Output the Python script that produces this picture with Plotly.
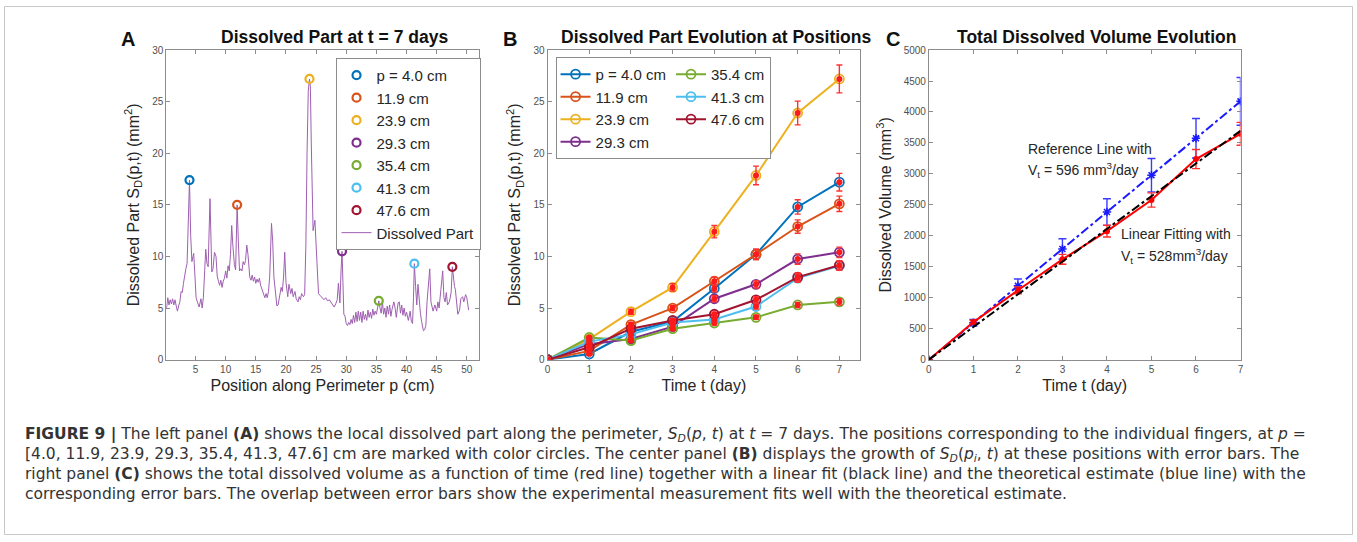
import plotly.graph_objects as go

W, H = 1357, 542

# ---------------- Panel A data ----------------
perim_p = [0.2,0.4,0.6,0.8,1.0,1.2,1.4,1.6,1.8,2.0,2.2,2.4,2.6,2.8,3.0,3.2,3.4,3.6,3.8,4.0,
           4.2,4.4,4.7,4.9,5.1,5.3,5.6,5.9,6.1,6.3,6.5,6.7,6.9,7.1,7.4,7.7,7.9,8.15,8.4,8.6,
           8.8,9.0,9.2,9.4,9.6,9.8,10.0,10.2,10.4,10.6,10.8,11.0,11.2,11.45,11.65,11.9,12.1,12.3,12.5,12.7,
           12.9,13.1,13.3,13.5,13.7,14.0,14.2,14.4,14.6,14.8,15.0,15.2,15.4,15.6,15.8,16.0,16.3,16.5,16.7,16.9,
           17.1,17.3,17.6,17.8,18.0,18.3,18.5,18.7,19.0,19.2,19.4,19.6,19.8,20.0,20.3,20.5,20.8,21.0,21.2,21.5,
           21.7,22.0,22.2,22.4,22.6,22.9,23.1,23.3,23.5,23.7,23.9,24.05,24.2,24.5,24.8,25.1,25.4,25.7,26.0,26.3,
           26.6,26.9,27.2,27.5,27.7,28.0,28.25,28.5,28.7,28.95,29.15,29.3,29.45,29.6,29.8,30.0,30.2,30.4,30.6,30.8,
           31.0,31.2,31.4,31.6,31.8,32.0,32.2,32.4,32.6,32.8,33.0,33.2,33.4,33.6,33.8,34.0,34.2,34.4,34.6,34.8,
           35.0,35.2,35.4,35.6,35.8,36.0,36.2,36.4,36.6,36.8,37.0,37.2,37.4,37.6,37.9,38.1,38.3,38.6,38.8,39.0,
           39.2,39.4,39.6,39.8,40.0,40.3,40.6,40.8,41.0,41.15,41.3,41.5,41.7,41.9,42.1,42.3,42.5,42.8,43.0,43.2,
           43.4,43.65,43.85,44.05,44.25,44.4,44.7,45.0,45.2,45.4,45.7,46.0,46.2,46.4,46.6,46.8,47.1,47.4,47.6,47.8,
           47.95,48.1,48.3,48.5,48.8,49.0,49.3,49.5,49.8,50.0,50.3]
dissolved = [5.0,6.0,5.3,5.8,5.4,5.9,5.3,5.8,5.2,4.7,5.2,5.6,6.6,6.5,7.4,8.4,8.8,9.3,12.5,17.4,
             12.0,9.5,10.3,8.5,6.0,5.6,5.1,5.9,5.0,6.0,8.1,10.7,9.3,9.0,15.6,8.5,8.8,10.4,10.0,8.1,
             7.6,7.2,7.7,7.0,7.6,7.9,8.6,7.9,9.1,8.6,10.2,13.0,11.0,9.2,8.7,15.0,11.5,8.6,8.8,8.6,
             9.5,9.2,9.6,11.1,10.2,8.0,7.7,8.2,7.6,8.0,7.4,7.8,7.5,7.9,7.2,6.8,6.3,6.0,6.4,6.0,
             6.6,8.0,13.2,11.5,8.0,5.8,5.2,5.3,6.5,7.0,6.6,8.0,10.4,7.5,6.1,7.3,6.4,6.9,6.1,6.6,
             5.9,5.6,6.1,5.8,6.4,6.1,6.3,11.0,20.0,26.0,27.2,26.5,21.0,12.5,13.5,10.5,6.4,6.2,6.0,5.8,
             6.0,5.7,5.8,5.5,5.3,5.1,5.4,5.8,7.4,5.5,8.8,10.5,7.5,4.4,4.2,3.5,3.3,3.6,3.4,3.9,
             3.5,4.3,3.6,4.6,3.7,4.7,3.8,4.6,3.6,4.7,3.9,4.4,3.8,4.8,4.1,4.6,4.0,4.9,4.3,4.7,
             4.4,5.2,5.7,5.0,4.5,5.6,4.4,5.0,4.1,5.2,4.4,5.3,4.2,4.9,5.6,5.0,4.1,5.5,5.6,4.5,
             5.3,4.3,5.0,4.2,4.6,3.8,4.7,3.7,3.5,6.0,9.3,7.1,5.3,7.3,5.6,4.5,3.7,2.8,2.9,3.3,
             5.6,7.0,8.8,5.6,5.0,4.7,5.3,4.7,5.6,5.0,6.8,8.6,6.0,5.6,6.5,5.3,5.6,6.5,9.0,7.4,
             7.1,6.8,5.3,4.4,4.8,5.9,6.1,5.6,6.3,6.0,4.8]

finger_labels = ["p = 4.0 cm", "11.9 cm", "23.9 cm", "29.3 cm", "35.4 cm", "41.3 cm", "47.6 cm"]
finger_pos = [4.0, 11.9, 23.9, 29.3, 35.4, 41.3, 47.6]
finger_val_t7 = [17.4, 15.0, 27.2, 10.5, 5.7, 9.3, 9.0]
finger_colors = ["#0072BD", "#D95319", "#EDB120", "#7E2F8E", "#77AC30", "#4DBEEE", "#A2142F"]

# ---------------- Panel B data ----------------
days = [0, 1, 2, 3, 4, 5, 6, 7]
growth = {
    "p = 4.0 cm": [0, 0.55, 2.7, 3.7, 6.9, 10.2, 14.8, 17.2],
    "11.9 cm":    [0, 0.85, 3.4, 5.0, 7.6, 10.2, 12.9, 15.1],
    "23.9 cm":    [0, 2.0, 4.65, 7.0, 12.4, 17.85, 23.9, 27.2],
    "29.3 cm":    [0, 1.5, 2.0, 3.2, 5.9, 7.3, 9.75, 10.4],
    "35.4 cm":    [0, 2.15, 1.85, 3.0, 3.55, 4.1, 5.3, 5.6],
    "41.3 cm":    [0, 1.75, 2.45, 3.6, 3.9, 5.15, 7.9, 9.1],
    "47.6 cm":    [0, 1.2, 3.0, 3.8, 4.4, 5.8, 8.0, 9.15],
}
growth_err = {
    "p = 4.0 cm": [0, 0.1, 0.15, 0.2, 0.35, 0.5, 0.7, 0.85],
    "11.9 cm":    [0, 0.1, 0.2, 0.25, 0.4, 0.5, 0.65, 0.75],
    "23.9 cm":    [0, 0.1, 0.25, 0.35, 0.6, 0.9, 1.15, 1.35],
    "29.3 cm":    [0, 0.1, 0.1, 0.15, 0.3, 0.35, 0.5, 0.5],
    "35.4 cm":    [0, 0.1, 0.1, 0.15, 0.2, 0.2, 0.25, 0.3],
    "41.3 cm":    [0, 0.1, 0.15, 0.2, 0.2, 0.25, 0.4, 0.45],
    "47.6 cm":    [0, 0.1, 0.15, 0.2, 0.2, 0.3, 0.4, 0.45],
}

# ---------------- Panel C data ----------------
total_measured = [0, 607, 1120, 1620, 2075, 2578, 3240, 3648]
total_measured_err = [0, 30, 55, 80, 95, 115, 155, 185]
reference_line = [0, 596, 1192, 1788, 2384, 2980, 3576, 4172]
reference_err = [0, 55, 110, 165, 215, 270, 320, 385]
fit_days = [0, 7]
fit_line = [0, 3696]

FONT = "Liberation Sans, Arial, sans-serif"
CAPFONT = "DejaVu Sans, Roboto, sans-serif"
TXT = "#262626"

fig = go.Figure()

# Panel A
fig.add_trace(go.Scatter(x=perim_p, y=dissolved, mode="lines", name="Dissolved Part",
                         line=dict(color="#9E5FB0", width=1), legend="legend", legendrank=100,
                         xaxis="x", yaxis="y"))
for lab, xp, yv, c, r in zip(finger_labels, finger_pos, finger_val_t7, finger_colors, range(1, 8)):
    fig.add_trace(go.Scatter(x=[xp], y=[yv], mode="markers", name=lab,
                             marker=dict(symbol="circle-open", size=8, color=c, line=dict(width=2.2)),
                             legend="legend", legendrank=r, xaxis="x", yaxis="y"))

# Panel B
for i, (lab, c) in enumerate(zip(finger_labels, finger_colors)):
    fig.add_trace(go.Scatter(x=days, y=growth[lab], mode="lines+markers", name=lab,
                             line=dict(color=c, width=2),
                             marker=dict(symbol="circle-open", size=9, color=c, line=dict(width=1.8)),
                             legend="legend2", legendgroup="g1" if i < 4 else "g2",
                             xaxis="x2", yaxis="y2"))
for lab in finger_labels:
    fig.add_trace(go.Scatter(x=days, y=growth[lab], mode="markers", showlegend=False,
                             marker=dict(symbol="circle", size=6, color="#ff1a1a"),
                             error_y=dict(type="data", array=growth_err[lab], color="#ff3030",
                                          thickness=1.4, width=3),
                             xaxis="x2", yaxis="y2"))

# Panel C
fig.add_trace(go.Scatter(x=days, y=reference_line, mode="lines+markers", showlegend=False,
                         line=dict(color="#1a1aff", width=2, dash="dashdot"),
                         marker=dict(symbol="asterisk-open", size=7, color="#1a1aff", line=dict(width=1.5, color="#1a1aff")),
                         error_y=dict(type="data", array=reference_err, color="#3b3bff", thickness=1.4, width=4),
                         xaxis="x3", yaxis="y3"))
fig.add_trace(go.Scatter(x=days, y=total_measured, mode="lines+markers", showlegend=False,
                         line=dict(color="#ff0000", width=2),
                         marker=dict(symbol="circle", size=6, color="#ff0000"),
                         error_y=dict(type="data", array=total_measured_err, color="#ff3030", thickness=1.4, width=4),
                         xaxis="x3", yaxis="y3"))
fig.add_trace(go.Scatter(x=fit_days, y=fit_line, mode="lines", showlegend=False,
                         line=dict(color="#000000", width=2, dash="dashdot"),
                         xaxis="x3", yaxis="y3"))


def px(x):
    return x / W


def py(y):
    return 1 - y / H


axis_common = dict(showline=True, linecolor="#8c8c8c", linewidth=1, mirror="ticks",
                   ticks="inside", ticklen=4, tickcolor="#8c8c8c",
                   tickfont=dict(size=10, color="#505050", family=FONT),
                   showgrid=False, zeroline=False,
                   title_font=dict(size=16, color=TXT, family=FONT))

fig.update_layout(
    width=W, height=H, margin=dict(l=0, r=0, t=0, b=0),
    paper_bgcolor="white", plot_bgcolor="white",
    font=dict(family=FONT, color=TXT),
    xaxis=dict(axis_common, domain=[px(164), px(478)], range=[0.15, 52],
               tickvals=[5, 10, 15, 20, 25, 30, 35, 40, 45, 50],
               title=dict(text="Position along Perimeter p (cm)", standoff=6), anchor="y"),
    yaxis=dict(axis_common, domain=[py(362), py(46)], range=[0, 30], dtick=5,
               title=dict(text="Dissolved Part S<sub>D</sub>(p,t) (mm<sup>2</sup>)", standoff=8), anchor="x"),
    xaxis2=dict(axis_common, domain=[px(547), px(861)], range=[0, 7.5], dtick=1,
                title=dict(text="Time t (day)", standoff=6), anchor="y2"),
    yaxis2=dict(axis_common, domain=[py(362), py(46)], range=[0, 30], dtick=5,
                title=dict(text="Dissolved Part S<sub>D</sub>(p,t) (mm<sup>2</sup>)", standoff=8), anchor="x2"),
    xaxis3=dict(axis_common, domain=[px(930), px(1243)], range=[0, 7], dtick=1,
                title=dict(text="Time t (day)", standoff=6), anchor="y3"),
    yaxis3=dict(axis_common, domain=[py(362), py(46)], range=[0, 5000], dtick=500,
                title=dict(text="Dissolved Volume (mm<sup>3</sup>)", standoff=8), anchor="x3"),
    legend=dict(x=px(334), y=py(54), xanchor="left", yanchor="top",
                bgcolor="white", bordercolor="#8c8c8c", borderwidth=1, itemwidth=30,
                font=dict(size=15, color=TXT, family=FONT), tracegroupgap=0),
    legend2=dict(x=px(555), y=py(53), xanchor="left", yanchor="top", orientation="h",
                 bgcolor="white", bordercolor="#8c8c8c", borderwidth=1,
                 font=dict(size=15, color=TXT, family=FONT), tracegroupgap=0,
                 traceorder="grouped"),
    showlegend=True,
)

ann = []
# panel letters and titles
for letter, xx in [("A", 126), ("B", 509), ("C", 894)]:
    ann.append(dict(text="<b>%s</b>" % letter, x=px(xx), y=py(35), xref="paper", yref="paper",
                    xanchor="center", yanchor="middle", showarrow=False,
                    font=dict(size=20, color="#111", family=FONT)))
for t, xx in [("Dissolved Part at t = 7 days", 333), ("Dissolved Part Evolution at Positions", 716),
              ("Total Dissolved Volume Evolution", 1098)]:
    ann.append(dict(text="<b>%s</b>" % t, x=px(xx), y=py(33), xref="paper", yref="paper",
                    xanchor="center", yanchor="middle", showarrow=False,
                    font=dict(size=17.5, color="#111", family=FONT)))
# panel C labels
for t, xx, yy in [("Reference Line with", 1028, 147), ("V<sub>t</sub> = 596 mm<sup>3</sup>/day", 1028, 168),
                  ("Linear Fitting with", 1121, 234), ("V<sub>t</sub> = 528mm<sup>3</sup>/day", 1121, 256)]:
    ann.append(dict(text=t, x=px(xx), y=py(yy), xref="paper", yref="paper",
                    xanchor="left", yanchor="middle", showarrow=False,
                    font=dict(size=14, color=TXT, family=FONT)))
# caption (one multi-line text)
caption_lines = [
    "<b>FIGURE 9 |</b> The left panel <b>(A)</b> shows the local dissolved part along the perimeter, <i>S<sub>D</sub></i>(<i>p</i>, <i>t</i>) at <i>t</i> = 7 days. The positions corresponding to the individual fingers, at <i>p</i> =",
    "[4.0, 11.9, 23.9, 29.3, 35.4, 41.3, 47.6] cm are marked with color circles. The center panel <b>(B)</b> displays the growth of <i>S<sub>D</sub></i>(<i>p<sub>i</sub></i>, <i>t</i>) at these positions with error bars. The",
    "right panel <b>(C)</b> shows the total dissolved volume as a function of time (red line) together with a linear fit (black line) and the theoretical estimate (blue line) with the",
    "corresponding error bars. The overlap between error bars show the experimental measurement fits well with the theoretical estimate.",
]
ann.append(dict(text="<br>".join(caption_lines), x=px(20), y=py(469), xref="paper", yref="paper",
                xanchor="left", yanchor="middle", showarrow=False, align="left",
                font=dict(size=15.5, color="#333", family=CAPFONT)))
fig.update_layout(annotations=ann)

fig.add_shape(type="rect", xref="paper", yref="paper", x0=px(1.5), x1=px(1355.5), y0=py(540.5), y1=py(1.5),
              line=dict(color="#c8c8c8", width=1))

fig.write_html("out.html", config={"displayModeBar": False},
               post_script="document.body.style.margin='0px';document.body.style.overflow='hidden';")
